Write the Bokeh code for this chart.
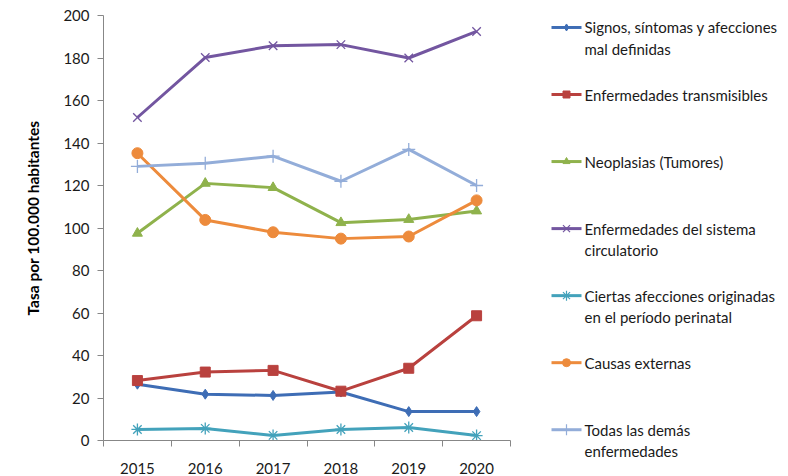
import math
from bokeh.plotting import figure
from bokeh.layouts import row
from bokeh.models import Range1d, FixedTicker
from bokeh.core.properties import value
from bokeh.embed import file_html
from bokeh.resources import INLINE

years = [2015, 2016, 2017, 2018, 2019, 2020]
year_labels = ["2015", "2016", "2017", "2018", "2019", "2020"]

signos = [26.5, 21.8, 21.2, 22.8, 13.6, 13.6]
transmisibles = [28.2, 32.2, 33.0, 23.2, 34.0, 58.7]
neoplasias = [97.5, 121.0, 119.0, 102.5, 104.0, 108.0]
circulatorio = [152.0, 180.2, 185.8, 186.3, 180.0, 192.5]
perinatal = [5.2, 5.7, 2.4, 5.2, 6.1, 2.3]
externas = [135.2, 103.8, 98.0, 95.0, 96.0, 113.0]
demas = [129.0, 130.5, 133.8, 122.0, 137.0, 120.0]

y_ticks = [0, 20, 40, 60, 80, 100, 120, 140, 160, 180, 200]
y_title = "Tasa por 100.000 habitantes"

labels = [
    "Signos, síntomas y afecciones\nmal definidas",
    "Enfermedades transmisibles",
    "Neoplasias (Tumores)",
    "Enfermedades del sistema\ncirculatorio",
    "Ciertas afecciones originadas\nen el período perinatal",
    "Causas externas",
    "Todas las demás\nenfermedades",
]
series = [signos, transmisibles, neoplasias, circulatorio, perinatal, externas, demas]
colors = ["#3E6DB5", "#B9413E", "#8FB24C", "#7356A0", "#43A2BB", "#ED8B3C", "#93ADD9"]
markers = ["diamond", "square", "triangle", "x", "asterisk", "circle", "cross"]
msizes = [10, 10, 10, 12, 12, 11, 13]
filled = [True, True, True, False, False, True, False]

FONT = "Lato"
H = 476
TOP = 15
BOTTOM = 35


def blank_panel(w):
    # frame shares the main plot's vertical extent; y range is in page pixels
    f = figure(width=w, height=H, output_backend="svg", toolbar_location=None, title=None,
               x_range=Range1d(0, w), y_range=Range1d(H - BOTTOM, TOP),
               x_axis_location=None, y_axis_location=None,
               min_border_left=0, min_border_right=0,
               min_border_top=TOP, min_border_bottom=BOTTOM)
    f.outline_line_color = None
    f.xgrid.visible = False
    f.ygrid.visible = False
    return f


# Y-axis title panel
tp = blank_panel(50)
tp.text(x=[32], y=[218], text=[y_title], angle=math.pi / 2,
        text_font=value(FONT), text_font_style="bold", text_font_size="15.5px",
        text_align="center", text_baseline="middle", text_color="#000000",
        level="overlay")

# Main chart
p = figure(width=470, height=H, output_backend="svg", toolbar_location=None, title=None,
           x_range=Range1d(2014.5, 2020.5), y_range=Range1d(0, 200),
           min_border_left=53, min_border_right=10, min_border_top=TOP, min_border_bottom=BOTTOM)
p.outline_line_color = None
p.xgrid.visible = False
p.ygrid.visible = False

for vals, c, m, s, f in zip(series, colors, markers, msizes, filled):
    p.line(years, vals, line_color=c, line_width=3)
    if f:
        p.scatter(years, vals, marker=m, size=s, fill_color=c, line_color=c)
    else:
        p.scatter(years, vals, marker=m, size=s, line_color=c, line_width=1.3)

axis_col = "#878787"
xa = p.xaxis[0]
xa.ticker = FixedTicker(ticks=years, minor_ticks=[y - 0.5 for y in years] + [years[-1] + 0.5])
xa.major_label_overrides = {y: l for y, l in zip(years, year_labels)}
xa.major_tick_out = 0
xa.major_tick_in = 0
xa.minor_tick_out = 6
xa.minor_tick_in = 0
xa.minor_tick_line_color = axis_col
xa.axis_line_color = axis_col
xa.major_label_standoff = 16
xa.major_label_text_font = FONT
xa.major_label_text_font_size = "15px"
xa.major_label_text_color = "#1a1a1a"

ya = p.yaxis[0]
ya.ticker = FixedTicker(ticks=y_ticks, minor_ticks=[])
ya.major_tick_out = 6
ya.major_tick_in = 0
ya.major_tick_line_color = axis_col
ya.axis_line_color = axis_col
ya.major_label_standoff = 8
ya.major_label_text_font = FONT
ya.major_label_text_font_size = "15px"
ya.major_label_text_color = "#1a1a1a"

# Legend panel
lg = blank_panel(268)
y0 = 27
step = 67.2
for i, (lab, c, m, s, f) in enumerate(zip(labels, colors, markers, msizes, filled)):
    yc = y0 + i * step
    lg.segment(x0=[31], y0=[yc], x1=[61], y1=[yc], line_color=c, line_width=3, level="overlay")
    if f:
        lg.scatter([46], [yc], marker=m, size=s - 3, fill_color=c, line_color=c, level="overlay")
    else:
        lg.scatter([46], [yc], marker=m, size=s - 2, line_color=c, line_width=1.2, level="overlay")
    lines = lab.split("\n")
    lg.text(x=[64] * len(lines), y=[yc + k * 21.5 for k in range(len(lines))], text=lines,
            text_font=value(FONT), text_font_size="15px", text_baseline="middle",
            text_align="left", text_color="#1a1a1a", level="overlay")

layout = row(tp, p, lg)
open("out.html", "w").write(file_html(layout, INLINE))
